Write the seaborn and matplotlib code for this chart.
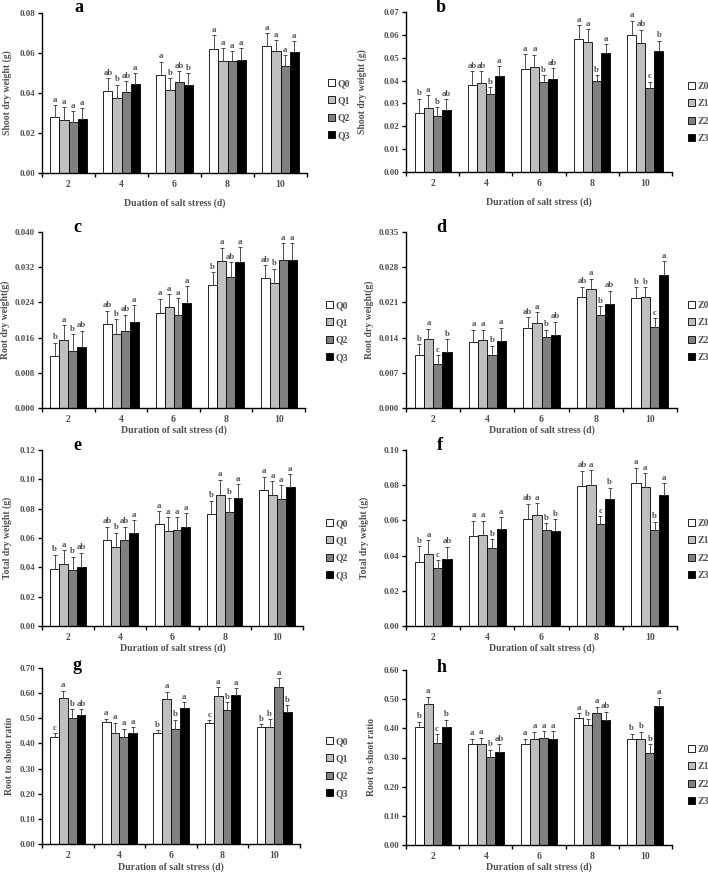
import numpy as np
import pandas as pd
import seaborn as sns
import matplotlib
matplotlib.use("Agg")
import matplotlib.pyplot as plt
from matplotlib.patches import Patch

# ---------------- data ----------------
days = ["2", "4", "6", "8", "10"]
q_groups = ["Q0", "Q1", "Q2", "Q3"]
z_groups = ["Z0", "Z1", "Z2", "Z3"]

# Panel a: shoot dry weight (Q)
a_mean = [[0.0278, 0.0410, 0.0489, 0.0619, 0.0634],
          [0.0264, 0.0375, 0.0413, 0.0562, 0.0611],
          [0.0254, 0.0405, 0.0454, 0.0559, 0.0534],
          [0.0269, 0.0443, 0.0442, 0.0564, 0.0604]]
a_err = [[0.0060, 0.0064, 0.0068, 0.0069, 0.0067],
         [0.0064, 0.0067, 0.0061, 0.0062, 0.0055],
         [0.0057, 0.0054, 0.0055, 0.0050, 0.0057],
         [0.0054, 0.0057, 0.0058, 0.0060, 0.0054]]
a_let = [["a", "ab", "a", "a", "a"],
         ["a", "b", "b", "a", "a"],
         ["a", "ab", "ab", "a", "a"],
         ["a", "a", "b", "a", "a"]]

# Panel b: shoot dry weight (Z)
b_mean = [[0.0259, 0.0379, 0.0450, 0.0581, 0.0600],
          [0.0280, 0.0390, 0.0460, 0.0569, 0.0566],
          [0.0244, 0.0341, 0.0395, 0.0399, 0.0367],
          [0.0273, 0.0420, 0.0408, 0.0520, 0.0531]]
b_err = [[0.0062, 0.0061, 0.0067, 0.0061, 0.0062],
         [0.0055, 0.0051, 0.0054, 0.0055, 0.0057],
         [0.0041, 0.0031, 0.0029, 0.0025, 0.0028],
         [0.0047, 0.0043, 0.0047, 0.0040, 0.0044]]
b_let = [["b", "ab", "a", "a", "a"],
         ["a", "ab", "a", "a", "ab"],
         ["b", "b", "b", "b", "c"],
         ["ab", "a", "ab", "a", "b"]]

# Panel c: root dry weight (Q)
c_mean = [[0.0119, 0.0191, 0.0217, 0.0279, 0.0296],
          [0.0154, 0.0168, 0.0229, 0.0333, 0.0283],
          [0.0130, 0.0175, 0.0211, 0.0297, 0.0336],
          [0.0139, 0.0196, 0.0239, 0.0331, 0.0337]]
c_err = [[0.0029, 0.0030, 0.0031, 0.0030, 0.0029],
         [0.0034, 0.0034, 0.0030, 0.0031, 0.0034],
         [0.0038, 0.0037, 0.0039, 0.0035, 0.0038],
         [0.0037, 0.0037, 0.0038, 0.0034, 0.0037]]
c_let = [["b", "ab", "a", "b", "ab"],
         ["a", "b", "a", "a", "b"],
         ["b", "ab", "a", "ab", "a"],
         ["ab", "a", "a", "a", "a"]]

# Panel d: root dry weight (Z)
d_mean = [[0.0105, 0.0132, 0.0160, 0.0220, 0.0218],
          [0.0137, 0.0136, 0.0169, 0.0236, 0.0220],
          [0.0087, 0.0105, 0.0141, 0.0184, 0.0161],
          [0.0111, 0.0134, 0.0145, 0.0206, 0.0264]]
d_err = [[0.0022, 0.0024, 0.0020, 0.0021, 0.0022],
         [0.0021, 0.0020, 0.0021, 0.0021, 0.0020],
         [0.0018, 0.0019, 0.0015, 0.0018, 0.0018],
         [0.0026, 0.0026, 0.0027, 0.0027, 0.0028]]
d_let = [["b", "a", "ab", "ab", "b"],
         ["a", "a", "a", "a", "b"],
         ["c", "b", "b", "b", "c"],
         ["b", "a", "ab", "ab", "a"]]

# Panel e: total dry weight (Q)
e_mean = [[0.0386, 0.0584, 0.0693, 0.0766, 0.0930],
          [0.0425, 0.0539, 0.0648, 0.0895, 0.0893],
          [0.0380, 0.0589, 0.0652, 0.0780, 0.0868],
          [0.0402, 0.0636, 0.0677, 0.0873, 0.0950]]
e_err = [[0.0100, 0.0093, 0.0091, 0.0089, 0.0088],
         [0.0093, 0.0097, 0.0095, 0.0103, 0.0093],
         [0.0093, 0.0088, 0.0091, 0.0095, 0.0091],
         [0.0098, 0.0087, 0.0091, 0.0095, 0.0086]]
e_let = [["b", "ab", "a", "b", "a"],
         ["a", "b", "a", "a", "a"],
         ["b", "ab", "a", "b", "a"],
         ["ab", "a", "a", "a", "a"]]

# Panel f: total dry weight (Z)
f_mean = [[0.0366, 0.0511, 0.0610, 0.0797, 0.0814],
          [0.0411, 0.0519, 0.0629, 0.0803, 0.0792],
          [0.0328, 0.0443, 0.0544, 0.0580, 0.0545],
          [0.0383, 0.0549, 0.0538, 0.0720, 0.0744]]
f_err = [[0.0089, 0.0087, 0.0085, 0.0086, 0.0086],
         [0.0078, 0.0079, 0.0070, 0.0081, 0.0075],
         [0.0045, 0.0049, 0.0039, 0.0043, 0.0048],
         [0.0068, 0.0068, 0.0068, 0.0066, 0.0069]]
f_let = [["b", "a", "ab", "ab", "a"],
         ["a", "a", "a", "a", "a"],
         ["c", "b", "b", "c", "b"],
         ["ab", "a", "b", "b", "a"]]

# Panel g: root to shoot ratio (Q)
g_mean = [[0.424, 0.487, 0.440, 0.480, 0.464],
          [0.581, 0.443, 0.578, 0.589, 0.464],
          [0.500, 0.424, 0.459, 0.532, 0.623],
          [0.513, 0.443, 0.541, 0.594, 0.524]]
g_err = [[0.016, 0.012, 0.013, 0.013, 0.013],
         [0.029, 0.040, 0.028, 0.034, 0.033],
         [0.036, 0.035, 0.036, 0.033, 0.037],
         [0.024, 0.021, 0.022, 0.026, 0.029]]
g_let = [["c", "a", "b", "c", "b"],
         ["a", "a", "a", "a", "b"],
         ["b", "a", "b", "b", "a"],
         ["ab", "a", "a", "a", "b"]]

# Panel h: root to shoot ratio (Z)
h_mean = [[0.405, 0.346, 0.348, 0.435, 0.362],
          [0.485, 0.348, 0.364, 0.412, 0.362],
          [0.351, 0.302, 0.368, 0.451, 0.316],
          [0.403, 0.318, 0.365, 0.429, 0.477]]
h_err = [[0.018, 0.019, 0.017, 0.016, 0.020],
         [0.024, 0.020, 0.025, 0.019, 0.027],
         [0.029, 0.025, 0.023, 0.023, 0.030],
         [0.027, 0.028, 0.026, 0.028, 0.028]]
h_let = [["b", "a", "a", "a", "b"],
         ["a", "a", "a", "b", "b"],
         ["c", "b", "a", "a", "b"],
         ["b", "ab", "a", "ab", "a"]]

y_labels = {"a": "Shoot dry weight (g)", "b": "Shoot dry weight (g)",
            "c": "Root dry weight(g)", "d": "Root dry weight(g)",
            "e": "Total dry weight (g)", "f": "Total dry weight (g)",
            "g": "Root to shoot ratio", "h": "Root to shoot ratio"}
x_labels = {"a": "Duation of salt stress (d)"}
x_label_default = "Duration of salt stress (d)"

# ---------------- style ----------------
sns.set_theme(style="ticks")
plt.rcParams["font.family"] = ["Liberation Serif", "DejaVu Serif"]
plt.rcParams["font.weight"] = "bold"
TXT = "#505050"
colors = ["#ffffff", "#bfbfbf", "#808080", "#000000"]

W, H = 708, 874
fig = plt.figure(figsize=(W / 100, H / 100), dpi=100)

# (name, mean, err, letters, groups, ax box px (l, r, t, b), ymax, ystep, fmt,
#  panel-letter pos, ylabel x, xlabel y, legend (x, top))
panels = [
    ("a", a_mean, a_err, a_let, q_groups, (42, 307, 13, 173), 0.08, 0.02, "%.2f", (79, 8), 7, 203, (328, 79)),
    ("b", b_mean, b_err, b_let, z_groups, (406, 672, 12, 172), 0.07, 0.01, "%.2f", (441, 8), 362, 202, (688, 82)),
    ("c", c_mean, c_err, c_let, q_groups, (42, 305, 232, 408), 0.040, 0.008, "%.3f", (77, 227), 5, 430, (326, 301)),
    ("d", d_mean, d_err, d_let, z_groups, (406, 677, 232, 408), 0.035, 0.007, "%.3f", (441, 228), 369, 430, (688, 301)),
    ("e", e_mean, e_err, e_let, q_groups, (42, 303, 450, 626), 0.12, 0.02, "%.2f", (77, 445), 7, 648, (326, 519)),
    ("f", f_mean, f_err, f_let, z_groups, (406, 677, 450, 626), 0.10, 0.02, "%.2f", (440, 445), 364, 648, (688, 519)),
    ("g", g_mean, g_err, g_let, q_groups, (42, 300, 668, 844), 0.70, 0.10, "%.2f", (77, 666), 10, 867, (326, 737)),
    ("h", h_mean, h_err, h_let, z_groups, (406, 672, 670, 845), 0.60, 0.10, "%.2f", (442, 668), 371, 867, (688, 745)),
]

for (name, mean, err, lets, groups, box, ymax, ystep, fmt, lpos, ylx, xly, legpos) in panels:
    l, r, t, b = box
    ax = fig.add_axes([l / W, 1 - b / H, (r - l) / W, (b - t) / H])
    rows = []
    for gi, g in enumerate(groups):
        for di, d in enumerate(days):
            rows.append({"day": d, "group": g, "value": mean[gi][di]})
    df = pd.DataFrame(rows)
    sns.barplot(data=df, x="day", y="value", hue="group", order=days,
                hue_order=groups, palette=colors, edgecolor="black",
                linewidth=0.6, width=0.68, errorbar=None, ax=ax, legend=False,
                saturation=1)
    bar_conts = list(ax.containers)
    for gi, cont in enumerate(bar_conts):
        for di, bar in enumerate(cont.patches):
            xc = bar.get_x() + bar.get_width() / 2
            h = bar.get_height()
            e = err[gi][di]
            ax.errorbar([xc], [h], yerr=[[0], [e]], fmt="none", ecolor="#333333",
                        elinewidth=0.6, capsize=1.6, capthick=0.6)
            ax.text(xc, h + e + ymax * 0.008, lets[gi][di], ha="center", va="bottom",
                    fontsize=6.3, color=TXT, fontweight="bold")
    ax.set_xlim(-0.5, 4.5)
    ax.set_ylim(0, ymax)
    ticks = np.arange(0, ymax + ystep / 2, ystep)
    ax.set_yticks(ticks)
    ax.set_yticklabels([fmt % v for v in ticks])
    ax.set_xticks(range(len(days)))
    ax.set_xticklabels(days)
    ax.set_xticks(np.arange(-0.5, len(days), 1.0), minor=True)
    ax.tick_params(axis="x", which="major", length=0, labelsize=7, labelcolor=TXT, pad=5)
    ax.tick_params(axis="x", which="minor", length=3, width=1, color="black", direction="out")
    ax.tick_params(axis="y", length=3, width=1, color="black", direction="out",
                   labelsize=6.5, labelcolor=TXT, pad=2)
    for lab in ax.get_xticklabels() + ax.get_yticklabels():
        lab.set_fontweight("bold")
    ax.set_xlabel("")
    ax.set_ylabel("")
    sns.despine(ax=ax)
    for s in ("left", "bottom"):
        ax.spines[s].set_linewidth(1.0)
        ax.spines[s].set_color("black")

    fig.text(ylx / W, 1 - ((t + b) / 2) / H, y_labels[name], rotation=90,
             ha="center", va="center", fontsize=7, color=TXT, fontweight="bold")
    fig.text(((l + r) / 2) / W, 1 - xly / H, x_labels.get(name, x_label_default),
             ha="center", va="center", fontsize=7, color=TXT, fontweight="bold")
    fig.text(lpos[0] / W, 1 - lpos[1] / H, name, ha="center", va="center",
             fontsize=13, color="black", fontweight="bold")

    handles = [Patch(facecolor=c, edgecolor="black", linewidth=0.6) for c in colors]
    fig.legend(handles, groups, loc="upper left",
               bbox_to_anchor=(legpos[0] / W, 1 - legpos[1] / H),
               bbox_transform=fig.transFigure, frameon=False, borderpad=0,
               borderaxespad=0, handlelength=0.75, handleheight=0.75,
               handletextpad=0.25, labelspacing=0.85,
               prop={"size": 7, "weight": "bold"}, labelcolor=TXT)

fig.savefig("out.png", dpi=100)
